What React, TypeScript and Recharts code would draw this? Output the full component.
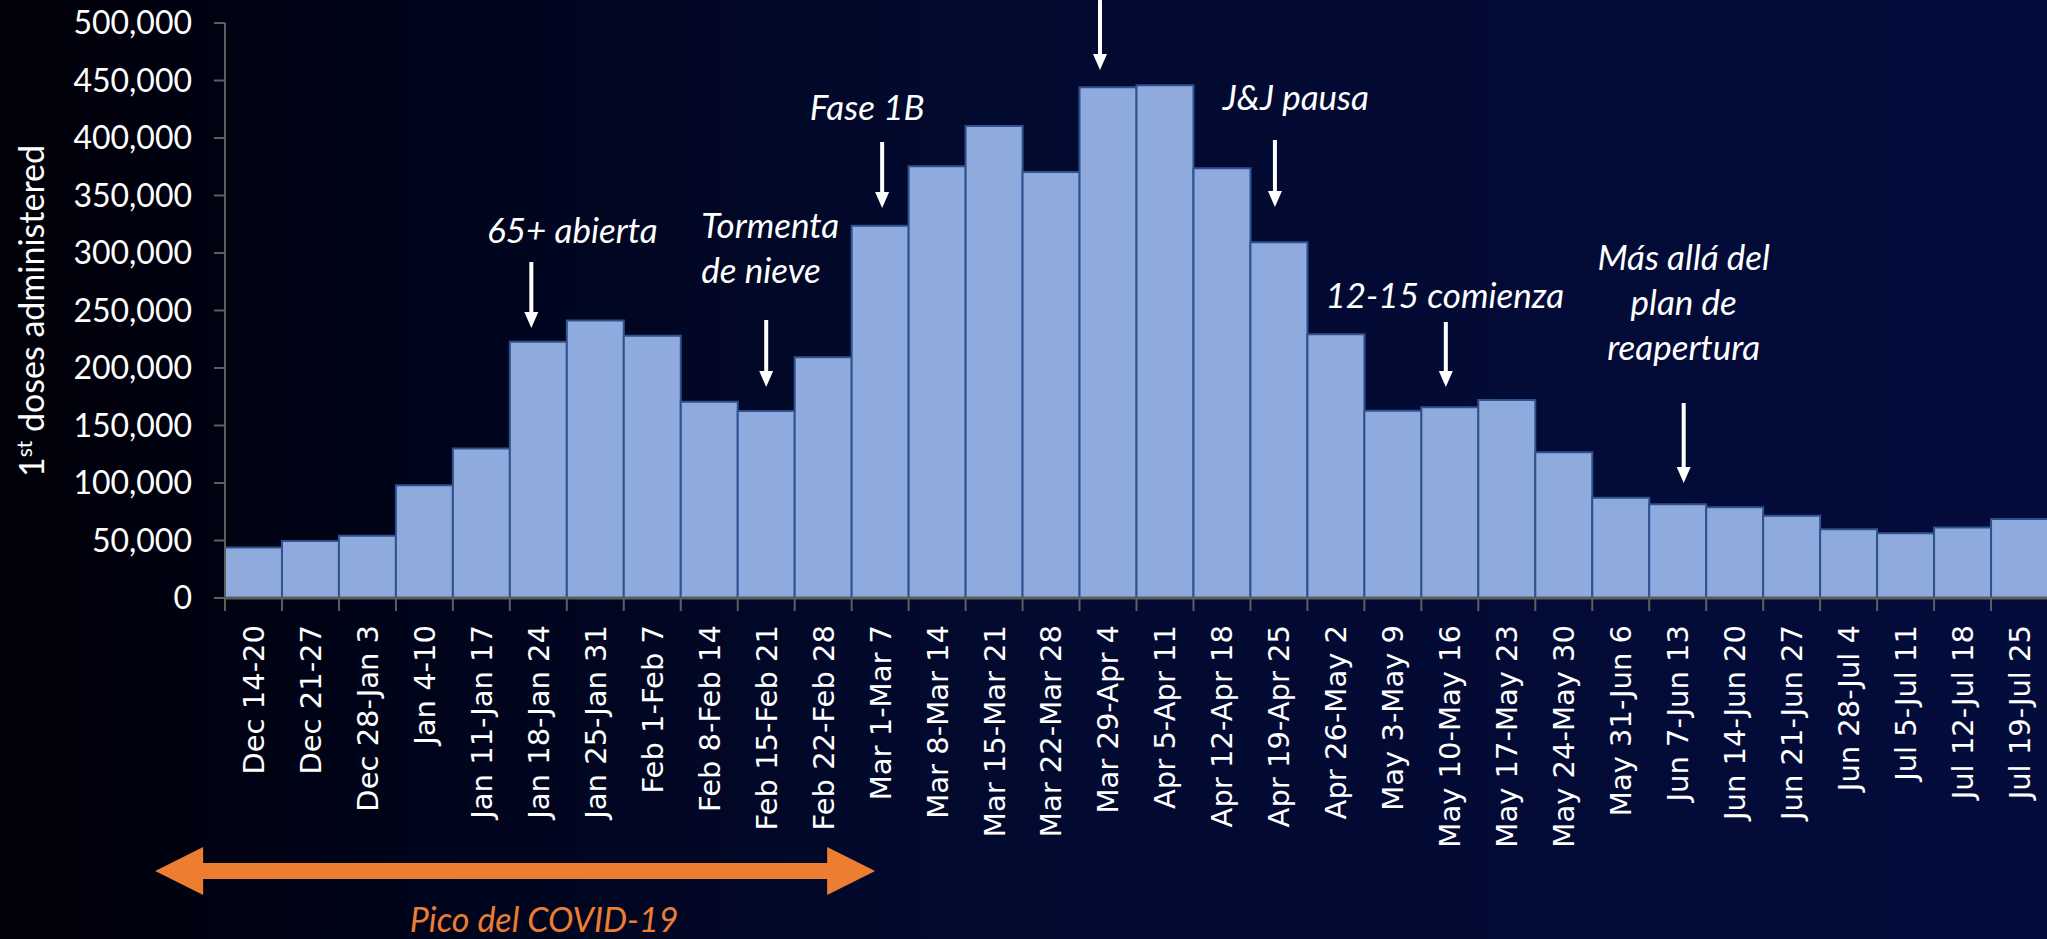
import React from 'react';
import { BarChart, Bar, XAxis, YAxis, ReferenceDot } from 'recharts';

// weekly first doses
const weeks = [
  'Dec 14-20', 'Dec 21-27', 'Dec 28-Jan 3', 'Jan 4-10', 'Jan 11-Jan 17', 'Jan 18-Jan 24',
  'Jan 25-Jan 31', 'Feb 1-Feb 7', 'Feb 8-Feb 14', 'Feb 15-Feb 21', 'Feb 22-Feb 28', 'Mar 1-Mar 7',
  'Mar 8-Mar 14', 'Mar 15-Mar 21', 'Mar 22-Mar 28', 'Mar 29-Apr 4', 'Apr 5-Apr 11', 'Apr 12-Apr 18',
  'Apr 19-Apr 25', 'Apr 26-May 2', 'May 3-May 9', 'May 10-May 16', 'May 17-May 23', 'May 24-May 30',
  'May 31-Jun 6', 'Jun 7-Jun 13', 'Jun 14-Jun 20', 'Jun 21-Jun 27', 'Jun 28-Jul 4', 'Jul 5-Jul 11',
  'Jul 12-Jul 18', 'Jul 19-Jul 25',
];
const firstDoses = [
  44000, 49600, 54200, 98000, 130100, 222900, 241200, 228100, 170700, 162600, 209300, 323800,
  375400, 410400, 370400, 444100, 445800, 373700, 309300, 229300, 162900, 165800, 172200, 126700,
  87200, 81500, 78900, 71600, 59700, 56200, 61200, 68700,
];
const yTicks = [0, 50000, 100000, 150000, 200000, 250000, 300000, 350000, 400000, 450000, 500000];

// events: week the arrow points at, value of the arrow tip, text
const eventWeeks = ['Jan 18-Jan 24', 'Feb 15-Feb 21', 'Mar 1-Mar 7', 'Mar 29-Apr 4', 'Apr 19-Apr 25', 'May 10-May 16', 'Jun 7-Jun 13'];
const eventTips = [234800, 183500, 339100, 459100, 340000, 183500, 100000];
const eventTexts = [
  ['65+ abierta'],
  ['Tormenta', 'de nieve'],
  ['Fase 1B'],
  [],
  ['J&J pausa'],
  ['12-15 comienza'],
  ['Más allá del', 'plan de', 'reapertura'],
];
// pixel offsets of arrow / text relative to the tip
const eventLayout = [
  { dx: -7, len: 66, tx: 34, ty: [-85], anchor: 'middle' },
  { dx: 0, len: 67, tx: -65, ty: [-149, -104], anchor: 'start' },
  { dx: 2, len: 66, tx: -13, ty: [-88], anchor: 'middle' },
  { dx: -8, len: 70, tx: 0, ty: [], anchor: 'middle' },
  { dx: -4, len: 67, tx: 17, ty: [-97], anchor: 'middle' },
  { dx: -4, len: 65, tx: -5, ty: [-79], anchor: 'middle' },
  { dx: 6, len: 80, tx: 6, ty: [-213, -168, -123], anchor: 'middle' },
];

const peakEndWeek = 'Mar 1-Mar 7';
const peakLabel = 'Pico del COVID-19';

const data = weeks.map((week, i) => ({ week, doses: firstDoses[i] }));

const CHART_W = 2050;
const CHART_H = 939;
const MARGIN = { top: 23, right: 2, left: 0, bottom: 0 };
const Y_AXIS_W = 225;
const PLOT_H = 575;
const X_AXIS_H = CHART_H - MARGIN.top - PLOT_H;
const HALF_BAND = (CHART_W - Y_AXIS_W - MARGIN.right) / weeks.length / 2;

const AXIS_GREY = '#5e5e5e';
const ANNOT_FONT = 'Lato, "Open Sans", sans-serif';

const WeekTick = (props: any) => {
  const { x, y, payload } = props;
  const bx = x - HALF_BAND;
  return (
    <g>
      <line x1={bx} y1={y} x2={bx} y2={y + 13} stroke={AXIS_GREY} strokeWidth={2} />
      <text
        x={x}
        y={y + 27}
        transform={`rotate(-90, ${x}, ${y + 27})`}
        textAnchor="end"
        dy="0.36em"
        fill="#ffffff"
        fontSize={29}
        fontFamily='"DejaVu Sans", sans-serif'
      >
        {payload.value}
      </text>
    </g>
  );
};

const YLabel = () => (
  <text
    x={32}
    y={311}
    transform="rotate(-90, 32, 311)"
    textAnchor="middle"
    dy="0.35em"
    fill="#ffffff"
    fontSize={34}
    fontFamily={ANNOT_FONT}
  >
    <tspan>1</tspan>
    <tspan fontSize={21} dy={-12}>st</tspan>
    <tspan dy={12}> doses administered</tspan>
  </text>
);

const makeEventShape = (i: number) => (props: any) => {
  const { cx, cy } = props;
  const lay = eventLayout[i];
  const x = cx + lay.dx;
  return (
    <g>
      <line x1={x} y1={cy - lay.len} x2={x} y2={cy - 14} stroke="#ffffff" strokeWidth={4} />
      <polygon points={`${x - 7},${cy - 16} ${x + 7},${cy - 16} ${x},${cy}`} fill="#ffffff" />
      {eventTexts[i].map((t, k) => (
        <text
          key={k}
          x={cx + lay.tx}
          y={cy + lay.ty[k]}
          textAnchor={lay.anchor}
          fill="#ffffff"
          fontSize={35}
          fontStyle="italic"
          fontFamily={ANNOT_FONT}
        >
          {t}
        </text>
      ))}
    </g>
  );
};

const PeakArrow = (props: any) => {
  const { cx, cy } = props;
  const right = cx - 5;
  const left = cx - 725;
  const ym = cy + 273;
  const head = 48;
  const hh = 24;
  const sh = 8;
  const pts = [
    [left, ym],
    [left + head, ym - hh],
    [left + head, ym - sh],
    [right - head, ym - sh],
    [right - head, ym - hh],
    [right, ym],
    [right - head, ym + hh],
    [right - head, ym + sh],
    [left + head, ym + sh],
    [left + head, ym + hh],
  ]
    .map((p) => p.join(','))
    .join(' ');
  return (
    <g>
      <polygon points={pts} fill="#ed7d31" />
      <text
        x={cx - 336}
        y={cy + 334}
        textAnchor="middle"
        fill="#ed7d31"
        fontSize={34}
        fontStyle="italic"
        fontFamily={ANNOT_FONT}
      >
        {peakLabel}
      </text>
    </g>
  );
};

export default function App() {
  return (
    <div
      style={{
        position: 'fixed',
        left: 0,
        top: 0,
        width: 2047,
        height: 939,
        overflow: 'hidden',
        background: 'linear-gradient(90deg, #000008 0%, #00041a 20%, #020a30 50%, #030c3b 100%)',
      }}
    >
      <BarChart width={CHART_W} height={CHART_H} data={data} margin={MARGIN} barCategoryGap={0}>
        <XAxis
          dataKey="week"
          interval={0}
          height={X_AXIS_H}
          tick={<WeekTick />}
          tickLine={false}
          tickSize={0}
          tickMargin={0}
          axisLine={{ stroke: AXIS_GREY, strokeWidth: 3 }}
        />
        <YAxis
          width={Y_AXIS_W}
          domain={[0, 500000]}
          ticks={yTicks}
          interval={0}
          tickFormatter={(v: number) => v.toLocaleString('en-US')}
          tick={{ fill: '#ffffff', fontSize: 32, fontFamily: ANNOT_FONT }}
          tickSize={11}
          tickMargin={22}
          tickLine={{ stroke: AXIS_GREY, strokeWidth: 2 }}
          axisLine={{ stroke: AXIS_GREY, strokeWidth: 2 }}
          label={<YLabel />}
        />
        <Bar dataKey="doses" fill="#8faadc" stroke="#2f528f" strokeWidth={2} isAnimationActive={false} />
        {eventWeeks.map((w, i) => (
          <ReferenceDot key={w} x={w} y={eventTips[i]} r={1} ifOverflow="visible" shape={makeEventShape(i)} />
        ))}
        <ReferenceDot x={peakEndWeek} y={0} r={1} ifOverflow="visible" shape={PeakArrow} />
      </BarChart>
    </div>
  );
}
